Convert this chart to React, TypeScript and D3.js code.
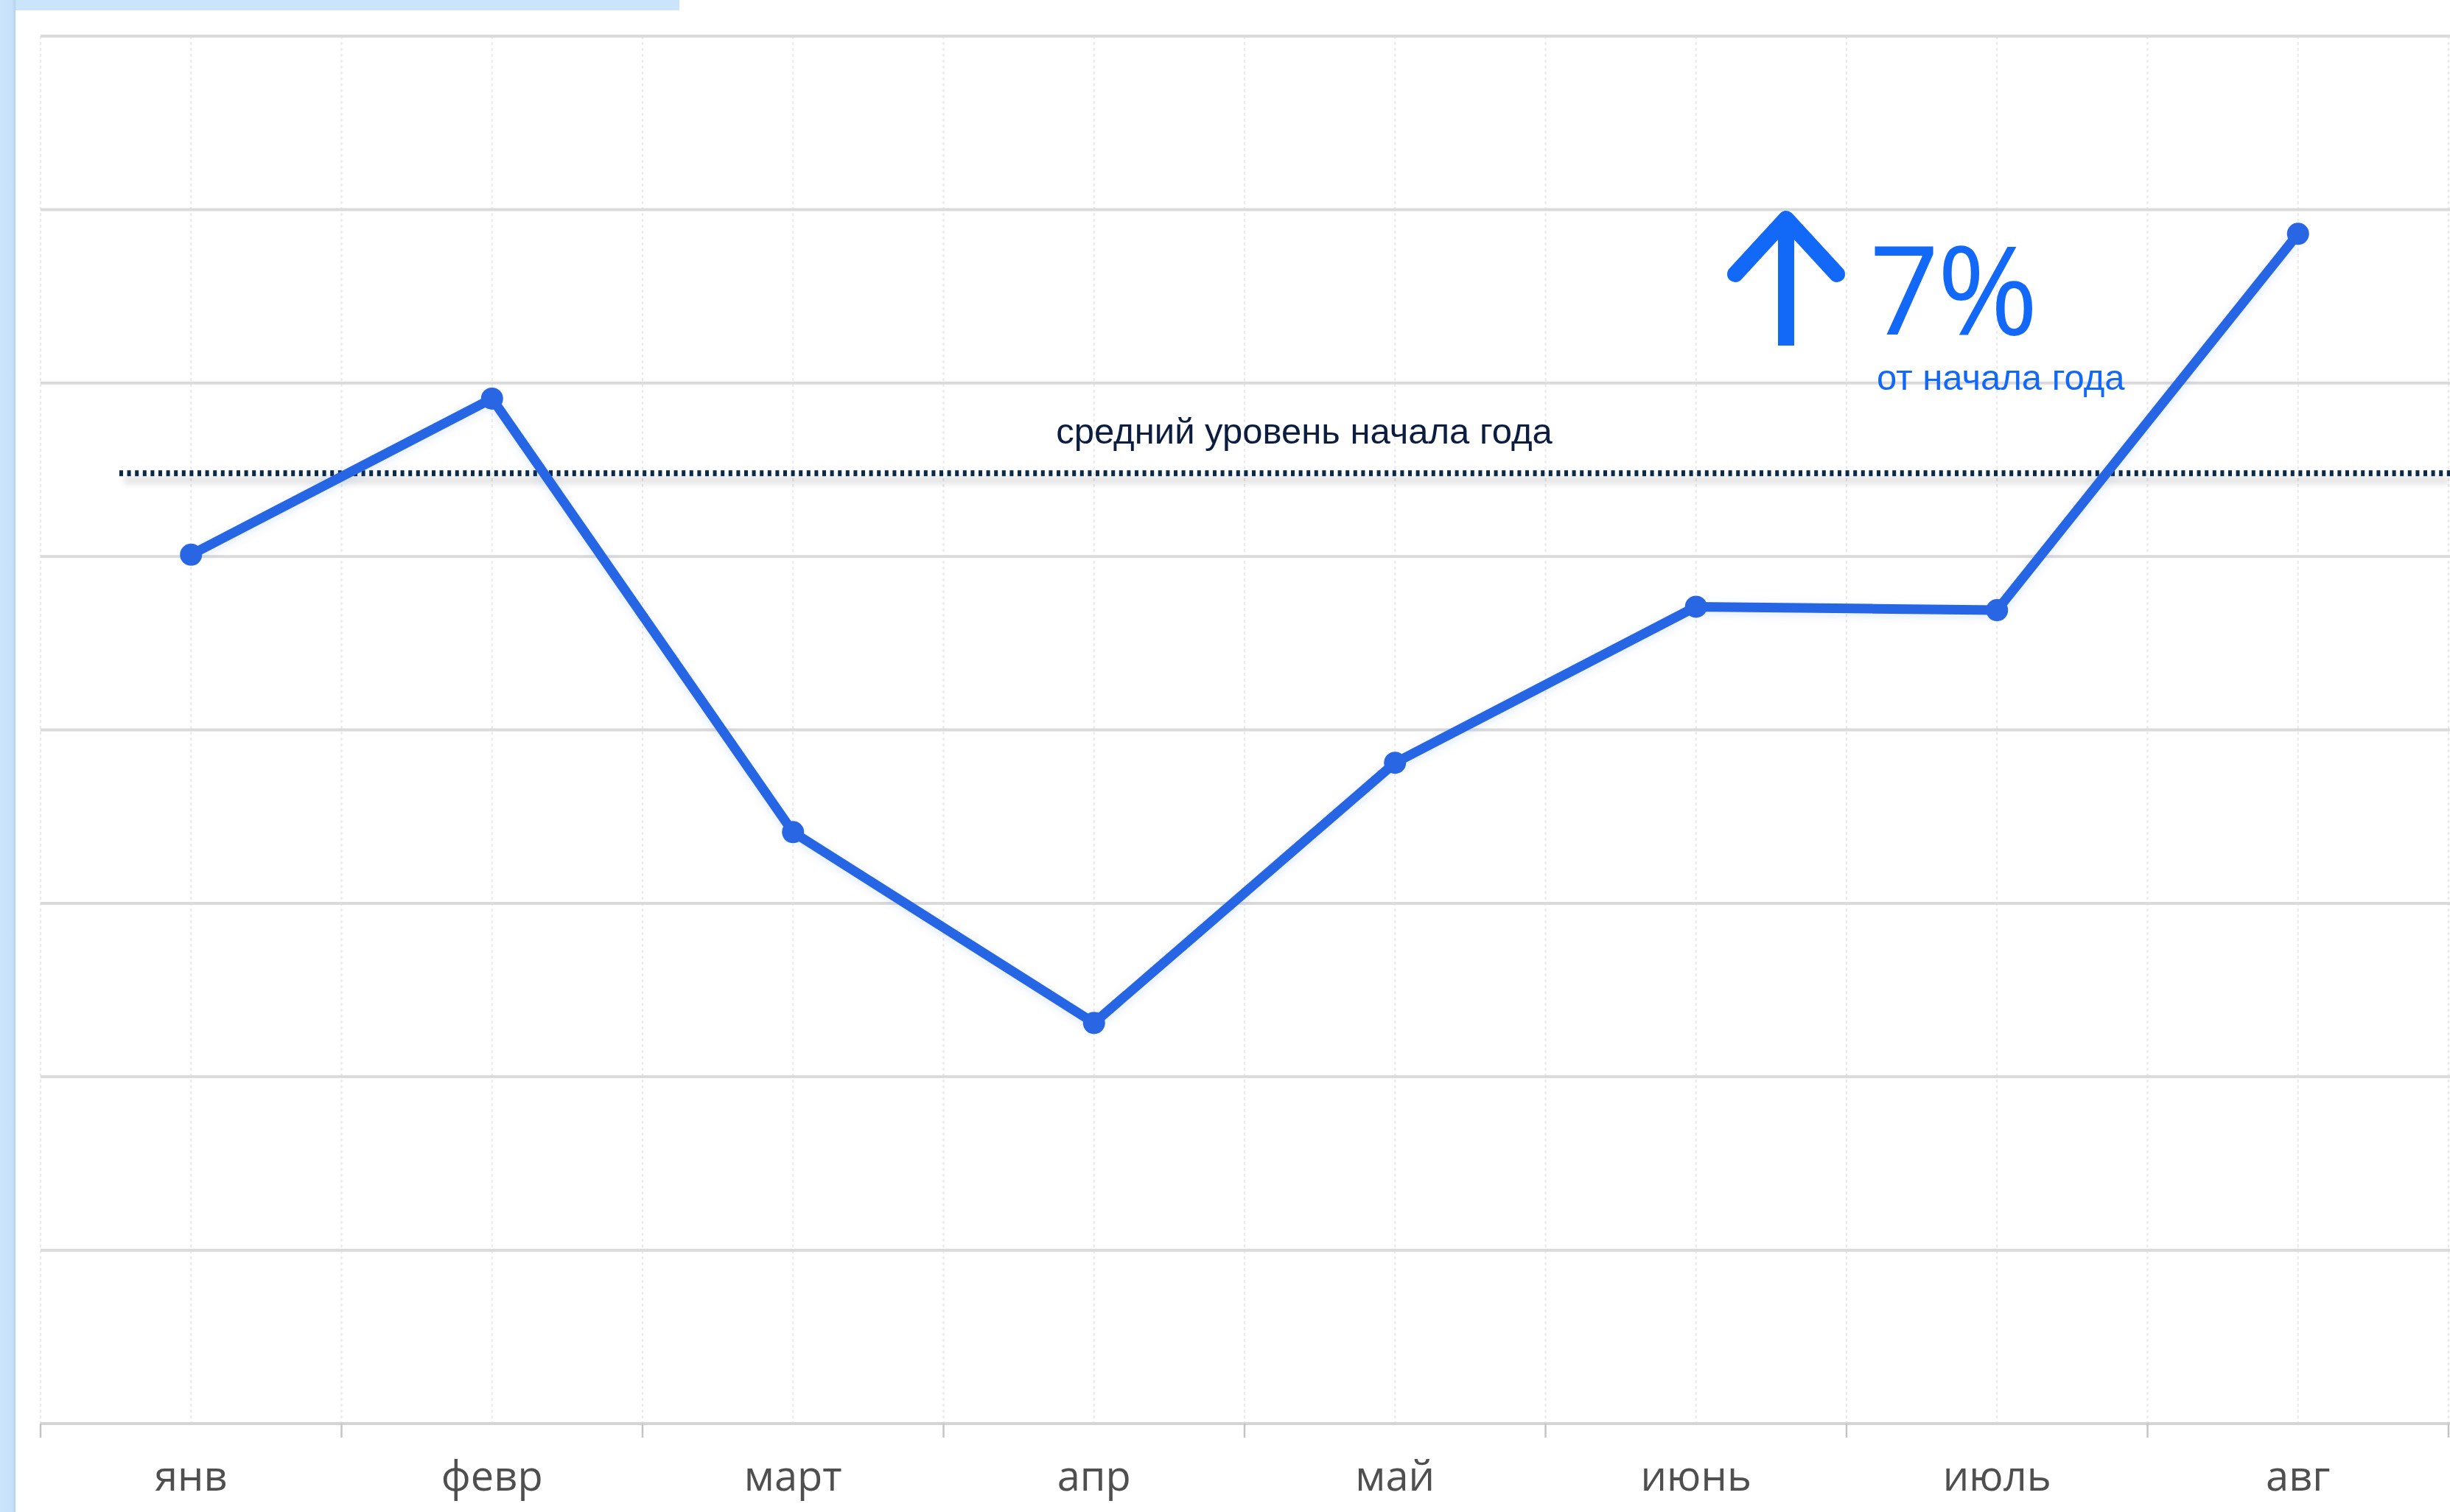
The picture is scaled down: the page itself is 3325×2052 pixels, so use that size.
import React from "react";
import * as d3 from "d3";

const months = ["янв", "февр", "март", "апр", "май", "июнь", "июль", "авг"];
const values = [50.1, 59.1, 34.1, 23.1, 38.1, 47.1, 46.9, 68.6];
const averageLevel = 54.8;
const yGridValues = [0, 10, 20, 30, 40, 50, 60, 70, 80];
const averageLabel = "средний уровень начала года";
const changeValue = "7%";
const changeLabel = "от начала года";

const W = 3325;
const H = 2052;
const LINE_BLUE = "#2866e4";
const ACCENT_BLUE = "#1268f7";

export default function App() {
  const x = d3.scaleBand<string>().domain(months).range([55, 3323]).padding(0);
  const y = d3.scaleLinear().domain([0, 80]).range([1932, 49]);
  const bw = x.bandwidth();
  const cx = (m: string) => (x(m) as number) + bw / 2;

  const linePath = d3
    .line<number>()
    .x((_, i) => cx(months[i]))
    .y((d) => y(d))(values) as string;

  const vGrid: number[] = [];
  months.forEach((m) => {
    vGrid.push(x(m) as number);
    vGrid.push(cx(m));
  });
  vGrid.push(x.range()[1]);

  const boundaries = months.map((m) => x(m) as number).concat([x.range()[1]]);
  const avgY = y(averageLevel);

  return (
    <svg
      width={W}
      height={H}
      viewBox={`0 0 ${W} ${H}`}
      style={{ position: "absolute", left: 0, top: 0, display: "block", background: "#ffffff" }}
    >
      <defs>
        <linearGradient id="stripEdge" x1="0" x2="1" y1="0" y2="0">
          <stop offset="0" stopColor="#c9e4fb" />
          <stop offset="0.8" stopColor="#c6e1f9" />
          <stop offset="1" stopColor="#b3cfea" />
        </linearGradient>
        <filter id="blurShadow" filterUnits="userSpaceOnUse" x={0} y={0} width={W} height={H}>
          <feGaussianBlur stdDeviation="5" />
        </filter>
        <filter id="lineShadow" filterUnits="userSpaceOnUse" x={0} y={0} width={W} height={H}>
          <feDropShadow dx="0" dy="3" stdDeviation="6" floodColor="#2866e4" floodOpacity="0.14" />
        </filter>
      </defs>

      <rect x={0} y={0} width={W} height={H} fill="#ffffff" />
      {/* page decoration */}
      <rect x={0} y={0} width={922} height={14} fill="#c9e4fb" />
      <rect x={0} y={0} width={21} height={H} fill="url(#stripEdge)" />

      {/* vertical dotted grid */}
      {vGrid.map((gx, i) => (
        <line
          key={"v" + i}
          x1={gx}
          x2={gx}
          y1={y(80)}
          y2={y(0)}
          stroke="#e9e9e9"
          strokeWidth={2}
          strokeDasharray="4 4"
        />
      ))}

      {/* horizontal grid */}
      {yGridValues.map((v) => (
        <line
          key={"h" + v}
          x1={55}
          x2={W}
          y1={y(v)}
          y2={y(v)}
          stroke={v === 0 ? "#d4d4d4" : "#dadada"}
          strokeWidth={4}
        />
      ))}

      {/* axis ticks */}
      {boundaries.map((bx, i) => (
        <line key={"t" + i} x1={bx} x2={bx} y1={y(0)} y2={y(0) + 19} stroke="#c4c4c4" strokeWidth={2.5} />
      ))}

      {/* month labels */}
      {months.map((m) => (
        <text
          key={m}
          x={cx(m)}
          y={2023}
          textAnchor="middle"
          fontFamily="'Open Sans', sans-serif"
          fontSize={56}
          fill="#4f4f4f"
        >
          {m}
        </text>
      ))}

      {/* average level */}
      <rect
        x={168}
        y={avgY + 5}
        width={W - 168}
        height={9}
        fill="#000"
        opacity={0.13}
        filter="url(#blurShadow)"
      />
      <line
        x1={162}
        x2={W}
        y1={avgY}
        y2={avgY}
        stroke="#0a2a4a"
        strokeWidth={8}
        strokeDasharray="5 5.6"
      />
      <text
        x={1770}
        y={602}
        textAnchor="middle"
        fontFamily="'Liberation Sans', Arial, sans-serif"
        fontSize={49}
        fill="#0b1d40"
      >
        {averageLabel}
      </text>

      {/* series */}
      <path
        d={linePath}
        fill="none"
        stroke={LINE_BLUE}
        strokeWidth={13}
        strokeLinejoin="round"
        strokeLinecap="round"
        filter="url(#lineShadow)"
      />
      {values.map((v, i) => (
        <circle key={"p" + i} cx={cx(months[i])} cy={y(v)} r={15} fill={LINE_BLUE} />
      ))}

      {/* change annotation */}
      <line x1={2424} x2={2424} y1={469} y2={305} stroke={ACCENT_BLUE} strokeWidth={22} strokeLinecap="butt" />
      <path
        d="M2355,372 L2424,297 L2493,372"
        fill="none"
        stroke={ACCENT_BLUE}
        strokeWidth={22}
        strokeLinecap="round"
        strokeLinejoin="round"
      />
      <text
        x={2537}
        y={454}
        fontFamily="'Open Sans', sans-serif"
        fontSize={166}
        fill={ACCENT_BLUE}
        letterSpacing={-3}
      >
        {changeValue}
      </text>
      <text
        x={2547}
        y={529}
        fontFamily="'Liberation Sans', Arial, sans-serif"
        fontSize={49}
        fill={ACCENT_BLUE}
      >
        {changeLabel}
      </text>
    </svg>
  );
}
